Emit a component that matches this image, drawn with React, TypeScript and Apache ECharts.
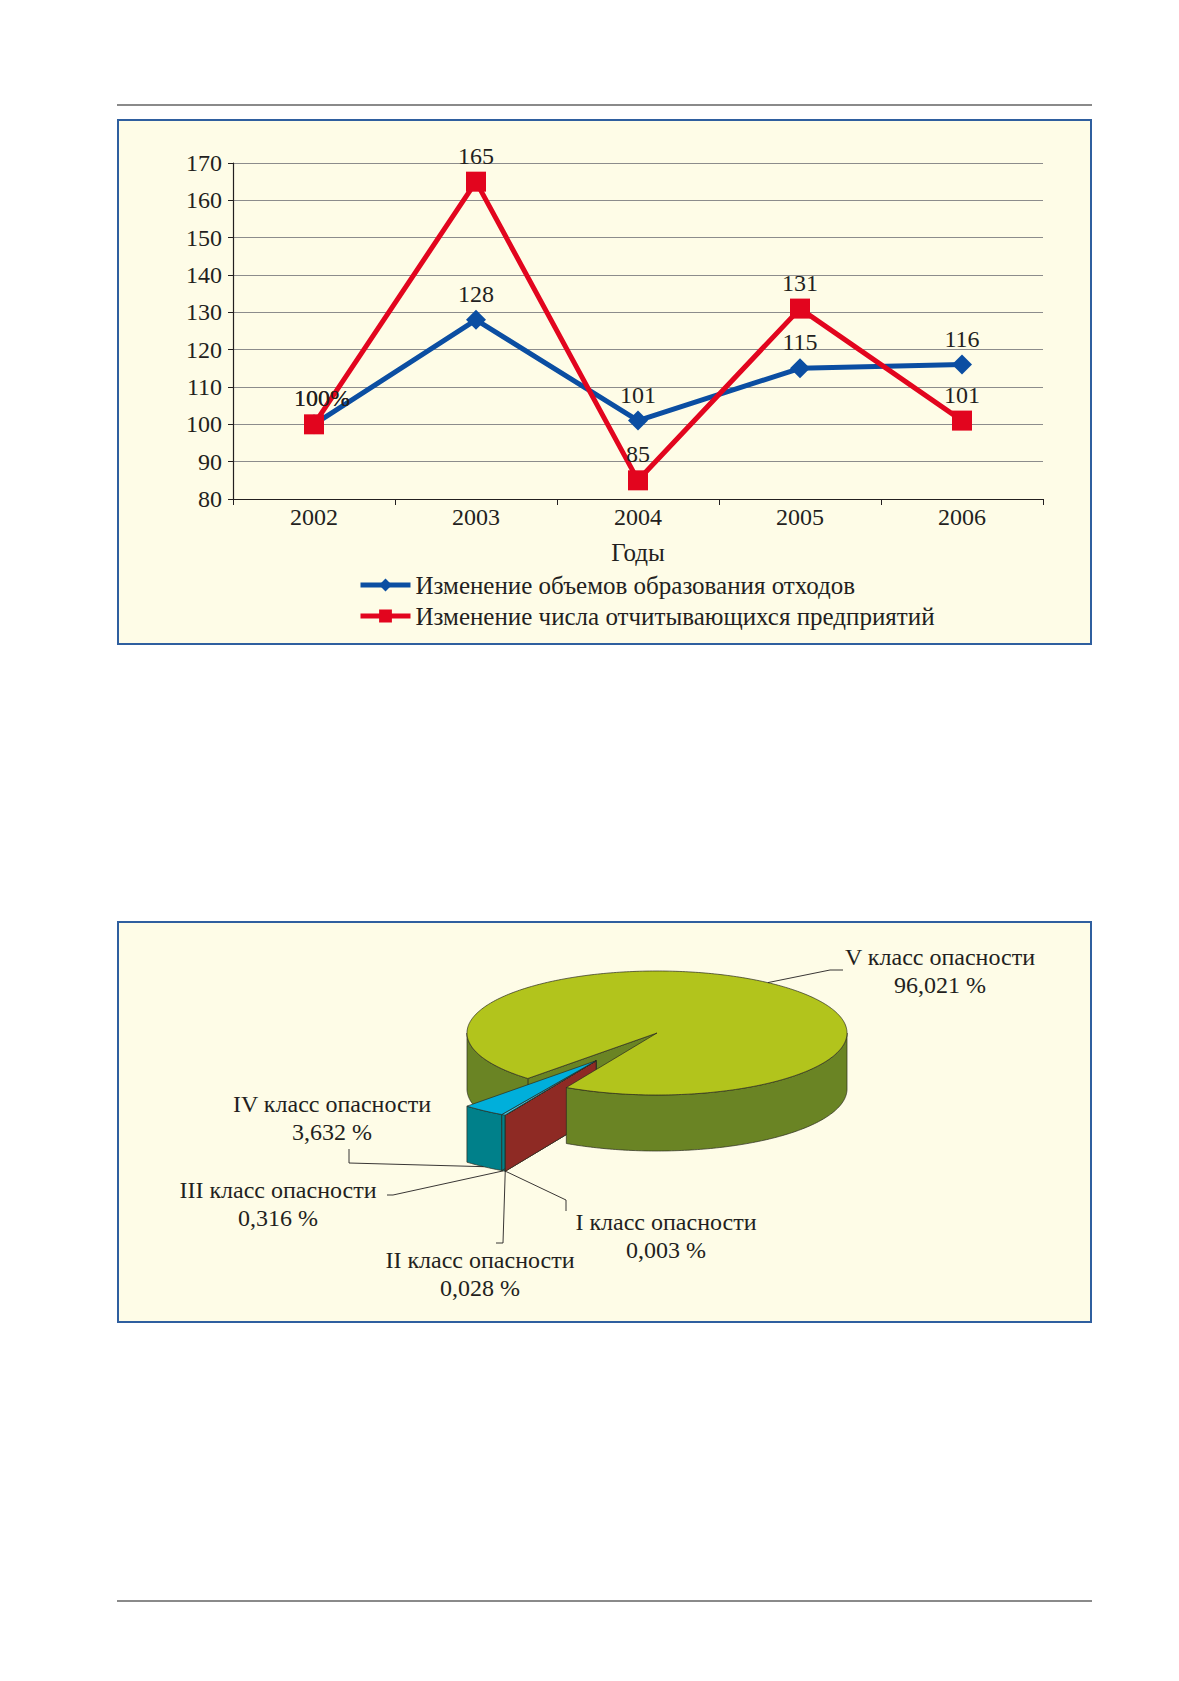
import { useEffect, useRef } from "react";
import * as echarts from "echarts";

// Line chart: index of change, 2002 = 100%.
const YEARS = ["2002", "2003", "2004", "2005", "2006"];
const WASTE_VOLUME = [100, 128, 101, 115, 116];
const ENTERPRISES = [100, 165, 85, 131, 101];
const Y_MIN = 80;
const Y_MAX = 170;
const Y_STEP = 10;
const SERIES_NAMES = [
  "Изменение объемов образования отходов",
  "Изменение числа отчитывающихся предприятий",
];
const X_NAME = "Годы";

// Pie: waste by hazard class, %.
const HAZARD_CLASSES = [
  "I класс опасности",
  "II класс опасности",
  "III класс опасности",
  "IV класс опасности",
  "V класс опасности",
];
const HAZARD_SHARES = [0.003, 0.028, 0.316, 3.632, 96.021];
const EXPLODED = [true, true, true, true, false];

const FONT = "'Liberation Serif', 'Times New Roman', serif";
const TEXT = "#231f20";
const BLUE = "#0b4ea2";
const RED = "#e2051e";

// 3D pie geometry (screen px)
const PIE = { cx: 657, cy: 1033, rx: 190, ry: 62, depth: 56, startAngle: 118.5, explode: 0.55 };
const SLICE_COLORS = [
  { top: "#a8352c", side: "#8e2a24" },
  { top: "#b7c2cc", side: "#8d99a3" },
  { top: "#40c4e4", side: "#1a96a6" },
  { top: "#00afdb", side: "#00808a" },
  { top: "#b2c41c", side: "#6a8424" },
];
// label centre, then leader points after the anchor on the slice
const LABEL_LAYOUT = [
  { x: 666, y: 1236, leader: [[566, 1200], [566, 1211]] },
  { x: 480, y: 1274, leader: [[503, 1243], [496, 1243]] },
  { x: 278, y: 1204, leader: [[393, 1195], [387, 1195]] },
  { x: 332, y: 1118, leader: [[349, 1163], [349, 1149]] },
  { x: 940, y: 971, leader: [[830, 970], [843, 970]] },
];

const rad = (d: number) => (d * Math.PI) / 180;
const fmtShare = (v: number) => v.toFixed(3).replace(".", ",") + " %";

const total = HAZARD_SHARES.reduce((a, b) => a + b, 0);
const starts: number[] = [];
const ends: number[] = [];
{
  let acc = 0;
  HAZARD_SHARES.forEach((v) => {
    starts.push(PIE.startAngle + (acc / total) * 360);
    acc += v;
    ends.push(PIE.startAngle + (acc / total) * 360);
  });
}
const expIdx = HAZARD_SHARES.map((_, i) => i).filter((i) => EXPLODED[i]);
const expMid =
  (Math.min(...expIdx.map((i) => starts[i])) + Math.max(...expIdx.map((i) => ends[i]))) / 2;
const EXP_OFF = [
  PIE.explode * PIE.rx * Math.cos(rad(expMid)),
  PIE.explode * PIE.ry * Math.sin(rad(expMid)),
];

function rim(cx: number, cy: number, deg: number, dy = 0) {
  return [cx + PIE.rx * Math.cos(rad(deg)), cy + PIE.ry * Math.sin(rad(deg)) + dy];
}
function arc(cx: number, cy: number, a0: number, a1: number, dy = 0) {
  const n = Math.max(2, Math.ceil(Math.abs(a1 - a0)));
  const pts: number[][] = [];
  for (let k = 0; k <= n; k++) pts.push(rim(cx, cy, a0 + ((a1 - a0) * k) / n, dy));
  return pts;
}

function renderSlice(params: any) {
  const i = params.dataIndex;
  const a0 = starts[i];
  const a1 = ends[i];
  const exploded = EXPLODED[i];
  const cx = PIE.cx + (exploded ? EXP_OFF[0] : 0);
  const cy = PIE.cy + (exploded ? EXP_OFF[1] : 0);
  const d = PIE.depth;
  const col = SLICE_COLORS[i];
  const edge = { stroke: "#2b2b1f", lineWidth: 0.7, lineJoin: "round" };
  const children: any[] = [];

  // outer wall, front half only
  for (let k = 0; k < 2; k++) {
    const lo = Math.max(a0, 360 * k);
    const hi = Math.min(a1, 360 * k + 180);
    if (hi <= lo) continue;
    const mid = ((lo + hi) / 2) % 360;
    const pts = [...arc(cx, cy, lo, hi), ...arc(cx, cy, hi, lo, d)];
    children.push({
      type: "polygon",
      shape: { points: pts },
      style: { fill: col.side, ...edge },
      z2: exploded ? 3 : mid < 90 ? 7 : 2,
    });
  }
  // radial faces facing the viewer
  const face = (a: number) => {
    const p = rim(cx, cy, a);
    return {
      type: "polygon",
      shape: { points: [[cx, cy], p, [p[0], p[1] + d], [cx, cy + d]] },
      style: { fill: col.side, ...edge },
      z2: exploded ? 4 + (HAZARD_SHARES.length - i) * 0.1 : 1,
    };
  };
  if (Math.cos(rad(a0)) < 0) children.push(face(a0));
  if (Math.cos(rad(a1)) > 0) children.push(face(a1));
  // top
  children.push({
    type: "polygon",
    shape: { points: [[cx, cy], ...arc(cx, cy, a0, a1)] },
    style: { fill: col.top, ...edge },
    z2: exploded ? 5 : 8,
  });

  // label with leader
  const mid = (a0 + a1) / 2;
  const front = Math.sin(rad(mid)) > 0;
  const anchor = rim(cx, cy, mid, front ? d : 0);
  const lay = LABEL_LAYOUT[i];
  children.push({
    type: "polyline",
    shape: { points: [anchor, ...lay.leader] },
    style: { stroke: "#231f20", lineWidth: 0.9, fill: "none" },
    z2: 9,
  });
  children.push({
    type: "text",
    style: {
      text: `${HAZARD_CLASSES[i]}\n${fmtShare(HAZARD_SHARES[i])}`,
      x: lay.x,
      y: lay.y,
      align: "center",
      verticalAlign: "middle",
      fontSize: 24,
      fontFamily: FONT,
      lineHeight: 28,
      fill: TEXT,
    },
    z2: 10,
  });
  return { type: "group", children };
}

const lineData = (vals: number[]) =>
  vals.map((v, i) => (i === 0 ? { value: v, label: { offset: [8, 0] } } : v));

const lineLabel = {
  show: true,
  position: "top",
  distance: 4,
  fontSize: 24,
  fontFamily: FONT,
  color: TEXT,
  formatter: (p: any) => (p.dataIndex === 0 ? "100%" : String(p.value)),
};

function buildOption() {
  return {
    animation: false,
    backgroundColor: "#ffffff",
    textStyle: { fontFamily: FONT },
    graphic: [
      { type: "line", shape: { x1: 117, y1: 105, x2: 1092, y2: 105 }, style: { stroke: "#8a8a8a", lineWidth: 2 }, z: 1 },
      { type: "rect", shape: { x: 118, y: 120, width: 973, height: 524 }, style: { fill: "#fefce7", stroke: "#2f5f9f", lineWidth: 2 }, z: 0 },
      { type: "rect", shape: { x: 118, y: 922, width: 973, height: 400 }, style: { fill: "#fefce7", stroke: "#2f5f9f", lineWidth: 2 }, z: 0 },
      { type: "line", shape: { x1: 117, y1: 1601, x2: 1092, y2: 1601 }, style: { stroke: "#8a8a8a", lineWidth: 2 }, z: 1 },
    ],
    grid: { left: 233, top: 163, width: 810, height: 336 },
    legend: {
      data: SERIES_NAMES,
      orient: "vertical",
      left: 353,
      top: 567,
      itemWidth: 50,
      itemHeight: 16,
      itemGap: 5,
      lineStyle: { width: 5 },
      textStyle: { fontSize: 25, fontFamily: FONT, color: TEXT, lineHeight: 26 },
      z: 4,
    },
    xAxis: {
      type: "category",
      data: YEARS,
      boundaryGap: true,
      name: X_NAME,
      nameLocation: "middle",
      nameGap: 41,
      nameTextStyle: { fontSize: 25, fontFamily: FONT, color: TEXT },
      axisLine: { lineStyle: { color: TEXT, width: 1.2 } },
      axisTick: { show: true, length: 6, lineStyle: { color: TEXT } },
      axisLabel: { fontSize: 24, fontFamily: FONT, color: TEXT, margin: 6 },
      splitLine: { show: false },
      z: 3,
    },
    yAxis: {
      type: "value",
      min: Y_MIN,
      max: Y_MAX,
      interval: Y_STEP,
      axisLine: { show: true, lineStyle: { color: TEXT, width: 1.2 } },
      axisTick: { show: true, length: 5, lineStyle: { color: TEXT } },
      axisLabel: { fontSize: 24, fontFamily: FONT, color: TEXT, margin: 11 },
      splitLine: { show: true, lineStyle: { color: "#8c8c8c", width: 1 } },
      z: 3,
    },
    series: [
      {
        name: SERIES_NAMES[0],
        type: "line",
        data: lineData(WASTE_VOLUME),
        symbol: "diamond",
        symbolSize: [20, 20],
        lineStyle: { color: BLUE, width: 5 },
        itemStyle: { color: BLUE },
        label: lineLabel,
        z: 4,
      },
      {
        name: SERIES_NAMES[1],
        type: "line",
        data: lineData(ENTERPRISES),
        symbol: "rect",
        symbolSize: [20, 20],
        lineStyle: { color: RED, width: 5 },
        itemStyle: { color: RED },
        label: lineLabel,
        z: 5,
      },
      {
        type: "custom",
        coordinateSystem: "none",
        silent: true,
        data: HAZARD_SHARES.map((v, i) => ({ name: HAZARD_CLASSES[i], value: v })),
        renderItem: renderSlice,
        z: 5,
      },
    ],
  };
}

export default function App() {
  const ref = useRef<HTMLDivElement>(null);

  useEffect(() => {
    if (!ref.current) return;
    const chart = echarts.init(ref.current, undefined, { renderer: "svg" });
    chart.setOption(buildOption() as any);
    return () => chart.dispose();
  }, []);

  return (
    <div
      ref={ref}
      style={{ position: "absolute", left: 0, top: 0, width: 1179, height: 1681, background: "#fff" }}
    />
  );
}
